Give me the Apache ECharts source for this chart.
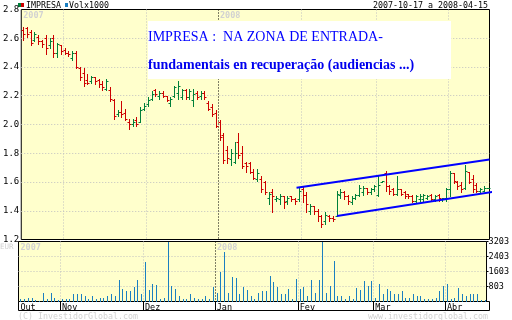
<!DOCTYPE html>
<html><head><meta charset="utf-8">
<script src="https://cdn.jsdelivr.net/npm/echarts@6/dist/echarts.min.js"></script>
<style>html,body{margin:0;padding:0;background:#fff}#c{width:512px;height:320px}</style>
</head><body><div id="c"></div>
<script>
const dates = [
'2007-10-17','2007-10-18','2007-10-19','2007-10-22','2007-10-23','2007-10-24','2007-10-25','2007-10-26','2007-10-29','2007-10-30','2007-10-31',
'2007-11-01','2007-11-02','2007-11-05','2007-11-06','2007-11-07','2007-11-08','2007-11-09','2007-11-12','2007-11-13','2007-11-14','2007-11-15','2007-11-16','2007-11-19','2007-11-20','2007-11-21','2007-11-22','2007-11-23','2007-11-26','2007-11-27','2007-11-28','2007-11-29','2007-11-30',
'2007-12-03','2007-12-04','2007-12-05','2007-12-06','2007-12-07','2007-12-10','2007-12-11','2007-12-12','2007-12-13','2007-12-14','2007-12-17','2007-12-18','2007-12-19','2007-12-20','2007-12-21','2007-12-24','2007-12-27','2007-12-28','2007-12-31',
'2008-01-02','2008-01-03','2008-01-04','2008-01-07','2008-01-08','2008-01-09','2008-01-10','2008-01-11','2008-01-14','2008-01-15','2008-01-16','2008-01-17','2008-01-18','2008-01-21','2008-01-22','2008-01-23','2008-01-24','2008-01-25','2008-01-28','2008-01-29','2008-01-30','2008-01-31',
'2008-02-01','2008-02-04','2008-02-06','2008-02-07','2008-02-08','2008-02-11','2008-02-12','2008-02-13','2008-02-14','2008-02-15','2008-02-18','2008-02-19','2008-02-20','2008-02-21','2008-02-22','2008-02-25','2008-02-26','2008-02-27','2008-02-28','2008-02-29',
'2008-03-03','2008-03-04','2008-03-05','2008-03-06','2008-03-07','2008-03-10','2008-03-11','2008-03-12','2008-03-13','2008-03-14','2008-03-17','2008-03-18','2008-03-19','2008-03-20','2008-03-25','2008-03-26','2008-03-27','2008-03-28','2008-03-31',
'2008-04-01','2008-04-02','2008-04-03','2008-04-04','2008-04-07','2008-04-08','2008-04-09','2008-04-10','2008-04-11','2008-04-14','2008-04-15'];

const opens = [
2.66,2.67,2.64,2.59,2.61,2.58,2.60,2.55,2.60,2.50,
2.55,2.52,2.50,2.46,2.50,2.39,2.36,2.31,2.30,2.33,
2.31,2.28,2.25,2.24,2.17,2.07,2.09,2.08,2.02,2.00,
2.03,2.02,2.11,2.14,2.18,2.24,2.20,2.22,2.20,2.15,
2.20,2.22,2.19,2.24,2.19,2.17,2.22,2.20,2.22,2.15,
2.12,2.08,2.02,1.93,1.82,1.76,1.74,1.88,1.80,1.73,
1.73,1.67,1.62,1.62,1.60,1.49,1.53,1.48,1.48,1.50,
1.47,1.50,1.48,1.48,1.55,1.51,1.40,1.43,1.40,1.36,
1.33,1.36,1.35,1.36,1.51,1.53,1.50,1.46,1.49,1.51,
1.53,1.56,1.53,1.55,1.51,1.60,1.66,1.57,1.55,1.52,
1.55,1.53,1.52,1.50,1.47,1.48,1.48,1.49,1.51,1.48,
1.51,1.48,1.49,1.55,1.66,1.60,1.58,1.56,1.67,1.62,
1.58,1.54,1.54,1.56];
const highs = [
2.68,2.68,2.66,2.64,2.62,2.59,2.62,2.60,2.62,2.57,
2.55,2.53,2.51,2.51,2.51,2.40,2.39,2.35,2.34,2.33,
2.32,2.30,2.32,2.26,2.18,2.10,2.16,2.11,2.04,2.04,
2.05,2.12,2.15,2.19,2.23,2.25,2.23,2.23,2.20,2.19,
2.27,2.30,2.25,2.25,2.25,2.25,2.23,2.23,2.23,2.16,
2.14,2.10,2.03,1.94,1.85,1.83,1.88,1.94,1.85,1.74,
1.74,1.69,1.69,1.64,1.61,1.53,1.55,1.50,1.52,1.50,
1.50,1.50,1.49,1.56,1.57,1.53,1.45,1.43,1.41,1.37,
1.39,1.37,1.36,1.54,1.55,1.54,1.51,1.50,1.52,1.58,
1.57,1.56,1.56,1.58,1.64,1.61,1.68,1.58,1.56,1.64,
1.55,1.54,1.52,1.51,1.51,1.52,1.52,1.51,1.52,1.51,
1.52,1.49,1.56,1.68,1.66,1.61,1.60,1.72,1.67,1.65,
1.59,1.56,1.57,1.56];
const lows = [
2.59,2.61,2.55,2.58,2.56,2.54,2.49,2.53,2.47,2.47,
2.49,2.49,2.48,2.45,2.39,2.31,2.27,2.28,2.29,2.28,
2.26,2.24,2.24,2.16,2.04,2.06,2.05,2.03,1.97,1.99,
1.99,2.02,2.10,2.13,2.17,2.20,2.18,2.19,2.16,2.13,
2.19,2.18,2.18,2.18,2.18,2.13,2.18,2.18,2.18,2.10,
2.06,1.98,1.89,1.73,1.73,1.72,1.73,1.77,1.70,1.67,
1.66,1.62,1.61,1.53,1.52,1.45,1.39,1.47,1.45,1.42,
1.45,1.47,1.45,1.47,1.46,1.39,1.38,1.38,1.33,1.29,
1.31,1.33,1.33,1.36,1.49,1.48,1.45,1.45,1.48,1.50,
1.51,1.52,1.52,1.54,1.50,1.60,1.54,1.52,1.51,1.51,
1.51,1.49,1.49,1.46,1.46,1.47,1.47,1.48,1.47,1.47,
1.47,1.47,1.47,1.50,1.59,1.55,1.53,1.55,1.59,1.53,
1.53,1.53,1.54,1.56];
const closes = [
2.63,2.63,2.57,2.63,2.58,2.56,2.53,2.58,2.50,2.56,
2.51,2.50,2.49,2.50,2.40,2.33,2.29,2.29,2.33,2.30,
2.28,2.26,2.30,2.18,2.06,2.09,2.07,2.04,2.00,2.02,
2.00,2.10,2.13,2.17,2.21,2.21,2.22,2.20,2.17,2.18,
2.26,2.27,2.24,2.19,2.23,2.21,2.19,2.22,2.19,2.11,
2.07,1.99,1.91,1.75,1.77,1.80,1.80,1.79,1.71,1.71,
1.67,1.63,1.66,1.55,1.53,1.52,1.50,1.49,1.50,1.46,
1.49,1.48,1.47,1.54,1.51,1.45,1.43,1.40,1.36,1.31,
1.37,1.35,1.34,1.52,1.53,1.50,1.47,1.49,1.51,1.56,
1.56,1.53,1.55,1.57,1.58,1.61,1.57,1.54,1.52,1.55,
1.52,1.50,1.50,1.47,1.50,1.50,1.51,1.50,1.48,1.50,
1.49,1.49,1.55,1.66,1.61,1.57,1.55,1.68,1.60,1.55,
1.54,1.55,1.56,1.56];
const volumes = [
160,107,213,213,71,53,427,160,427,213,
90,107,107,160,374,374,374,267,160,320,
160,213,213,320,374,267,1121,641,534,534,
748,1121,374,2083,587,908,854,107,213,3168,
801,641,320,107,107,374,213,107,107,267,
160,748,427,1549,2617,480,1282,1228,374,748,
587,290,160,480,534,534,1335,1015,748,374,
374,641,160,1175,641,748,320,1121,480,1121,
3200,427,801,2136,320,320,160,267,107,694,
587,1068,801,1068,213,908,374,641,534,374,
374,534,213,213,374,267,320,160,160,160,
213,534,801,908,107,213,694,374,267,374,
374,374,60,60];

const priceMin = 1.2, priceMax = 2.8, priceStep = 0.2;
const volTickLabels = ['803','1603','2403','3203'];
const monthNames = {'01':'Jan','02':'Fev','03':'Mar','04':'Abr','10':'Out','11':'Nov','12':'Dez'};
const upperTrend = [[72.4, 1.560], [123.5, 1.757]];
const lowerTrend = [[83.1, 1.363], [124.6, 1.532]];
const titleLine1 = 'IMPRESA :  NA ZONA DE ENTRADA-';
const titleLine2 = 'fundamentais en recuperação (audiencias ...)';
const periodText = '2007-10-17 a 2008-04-15';

const RED = '#cc0000', GREEN = '#00803a', VOLC = '#1a7fc1', GRIDC = '#c0c0c0', WM = '#d2d2d2';
const MONO = '"DejaVu Sans Mono", monospace';

const isMonthStart = (i) => i === 0 || dates[i].slice(0, 7) !== dates[i - 1].slice(0, 7);
const monthLines = [];
dates.forEach((d, i) => {
  if (isMonthStart(i)) {
    const yearStart = i === 0 || dates[i].slice(0, 4) !== dates[i - 1].slice(0, 4);
    monthLines.push([i, yearStart ? 1 : 0]);
  }
});

const ohlcData = dates.map((d, i) => [i, opens[i], highs[i], lows[i], closes[i]]);
const volData = dates.map((d, i) => [i, volumes[i]]);

function renderOHLC(params, api) {
  const i = api.value(0);
  const o = api.value(1), h = api.value(2), l = api.value(3), c = api.value(4);
  const x = Math.round(api.coord([i, o])[0]) + 0.5;
  const yo = Math.round(api.coord([i, o])[1]) + 0.5;
  const yh = Math.round(api.coord([i, h])[1]);
  const yl = Math.round(api.coord([i, l])[1]) + 1;
  const yc = Math.round(api.coord([i, c])[1]) + 0.5;
  const col = c >= o ? GREEN : RED;
  const st = { stroke: col, lineWidth: 1 };
  return { type: 'group', children: [
    { type: 'line', shape: { x1: x, y1: yh, x2: x, y2: Math.max(yl, yh + 1) }, style: st },
    { type: 'line', shape: { x1: x - 2, y1: yo, x2: x, y2: yo }, style: st },
    { type: 'line', shape: { x1: x, y1: yc, x2: x + 2, y2: yc }, style: st }
  ]};
}

function renderVol(params, api) {
  const i = api.value(0);
  const top = api.coord([i, api.value(1)]);
  const base = api.coord([i, 0]);
  const x = Math.round(top[0]) + 0.5;
  return { type: 'line', shape: { x1: x, y1: Math.round(top[1]), x2: x, y2: Math.round(base[1]) },
    style: { stroke: VOLC, lineWidth: 1 } };
}

function makeMonthRender(withBox, yRef) {
  return function (params, api) {
    const idx = api.value(0), isYear = api.value(1) === 1;
    const cs = params.coordSys;
    const bw = api.size([1, 0])[0];
    const cx = api.coord([idx, yRef])[0];
    const x = Math.round(cx - bw / 2) + 0.5;
    const children = [];
    if (idx > 0) {
      children.push({ type: 'line', shape: { x1: x, y1: cs.y, x2: x, y2: cs.y + cs.height },
        style: { stroke: isYear ? '#000' : GRIDC, lineWidth: 1, lineDash: [1, 2] } });
      if (withBox) {
        children.push({ type: 'line', shape: { x1: x, y1: cs.y + cs.height, x2: x, y2: cs.y + cs.height + 9 },
          style: { stroke: '#000', lineWidth: 1 } });
      }
    }
    if (isYear) {
      children.push({ type: 'text', x: idx > 0 ? x + 1.5 : cs.x + 2, y: cs.y + 2,
        style: { text: dates[idx].slice(0, 4), fill: WM, font: 'bold 8.5px ' + MONO } });
    }
    return { type: 'group', children };
  };
}

const chart = echarts.init(document.getElementById('c'), null, { renderer: 'canvas' });
chart.setOption({
  animation: false,
  backgroundColor: '#fff',
  grid: [
    { left: 18.5, top: 9.5, width: 471, height: 230, show: true, backgroundColor: '#ffffcc', borderColor: '#000', borderWidth: 1 },
    { left: 18.5, top: 241.5, width: 471, height: 60, show: true, backgroundColor: '#ffffcc', borderColor: '#000', borderWidth: 1 }
  ],
  xAxis: [
    { type: 'category', gridIndex: 0, data: dates, boundaryGap: true,
      axisLine: { show: false }, axisTick: { show: false }, axisLabel: { show: false }, splitLine: { show: false } },
    { type: 'category', gridIndex: 1, data: dates, boundaryGap: true,
      axisLine: { show: false }, axisTick: { show: false }, splitLine: { show: false },
      axisLabel: { show: true, interval: (i) => isMonthStart(i), formatter: (v) => monthNames[v.slice(5, 7)],
        align: 'left', margin: 1.5, color: '#000', fontFamily: MONO, fontSize: 8.5 } },
    { type: 'value', gridIndex: 0, min: -0.5, max: dates.length - 0.5, show: false }
  ],
  yAxis: [
    { type: 'value', gridIndex: 0, min: priceMin, max: priceMax, interval: priceStep,
      axisLine: { show: false }, axisTick: { show: false },
      axisLabel: { formatter: (v) => v.toFixed(1), margin: 2, color: '#000', fontFamily: MONO, fontSize: 9 },
      splitLine: { show: true, showMinLine: false, showMaxLine: false, lineStyle: { color: GRIDC, type: [1, 2], width: 1 } } },
    { type: 'value', gridIndex: 1, position: 'right', min: 0, max: 3200, interval: 800,
      axisLine: { show: false }, axisTick: { show: true, length: 2, lineStyle: { color: '#000' } },
      axisLabel: { formatter: (v) => v === 0 ? '' : volTickLabels[v / 800 - 1], margin: 2, color: '#000', fontFamily: MONO, fontSize: 8.5 },
      splitLine: { show: true, showMinLine: false, showMaxLine: false, lineStyle: { color: GRIDC, type: [1, 2], width: 1 } } }
  ],
  series: [
    { type: 'custom', name: 'months0', xAxisIndex: 0, yAxisIndex: 0, data: monthLines, renderItem: makeMonthRender(false, priceMin), z: 1, silent: true },
    { type: 'custom', name: 'months1', xAxisIndex: 1, yAxisIndex: 1, data: monthLines, renderItem: makeMonthRender(true, 0), z: 1, silent: true, clip: false },
    { type: 'custom', name: 'IMPRESA', xAxisIndex: 0, yAxisIndex: 0, data: ohlcData, renderItem: renderOHLC,
      encode: { x: 0, y: [1, 2, 3, 4] }, z: 3 },
    { type: 'custom', name: 'Volx1000', xAxisIndex: 1, yAxisIndex: 1, data: volData, renderItem: renderVol,
      encode: { x: 0, y: 1 }, z: 3 },
    { type: 'line', name: 'upper', xAxisIndex: 2, yAxisIndex: 0, data: upperTrend, symbol: 'none', clip: false,
      lineStyle: { color: '#0000ff', width: 2 }, z: 4, silent: true },
    { type: 'line', name: 'lower', xAxisIndex: 2, yAxisIndex: 0, data: lowerTrend, symbol: 'none', clip: false,
      lineStyle: { color: '#0000ff', width: 2 }, z: 4, silent: true }
  ],
  graphic: [
    { type: 'rect', shape: { x: 18.5, y: 301.5, width: 471, height: 9 }, style: { fill: '#fff', stroke: '#000', lineWidth: 1 }, z: -1 },
    { type: 'rect', shape: { x: 18, y: 3, width: 3, height: 4 }, style: { fill: GREEN } },
    { type: 'rect', shape: { x: 21, y: 3, width: 3, height: 4 }, style: { fill: RED } },
    { type: 'text', x: 26, y: 1.5, style: { text: 'IMPRESA', fill: '#000', font: '8.3px ' + MONO } },
    { type: 'rect', shape: { x: 65, y: 3, width: 3, height: 4 }, style: { fill: VOLC } },
    { type: 'text', x: 69, y: 1.5, style: { text: 'Volx1000', fill: '#000', font: '8.3px ' + MONO } },
    { type: 'text', right: 24, y: 1.5, style: { text: periodText, fill: '#000', font: '8.3px ' + MONO } },
    { type: 'text', x: 0, y: 243, style: { text: 'EUR', fill: WM, font: '7.5px ' + MONO } },
    { type: 'text', x: 18, y: 312.5, style: { text: '(C) InvestidorGlobal.com', fill: WM, font: '8.3px ' + MONO } },
    { type: 'text', right: 24, y: 312.5, style: { text: 'www.investidorglobal.com', fill: WM, font: '8.3px ' + MONO } },
    { type: 'rect', shape: { x: 148, y: 21, width: 303, height: 58 }, style: { fill: '#fff' }, z: 10 },
    { type: 'text', x: 148, y: 44, style: { text: titleLine1, fill: '#0000ff', font: '14px "Liberation Serif", serif', textVerticalAlign: 'bottom' }, z: 11 },
    { type: 'text', x: 148, y: 72, style: { text: titleLine2, fill: '#0000ee', font: 'bold 14px "Liberation Serif", serif', textVerticalAlign: 'bottom' }, z: 11 }
  ]
});
</script></body></html>
